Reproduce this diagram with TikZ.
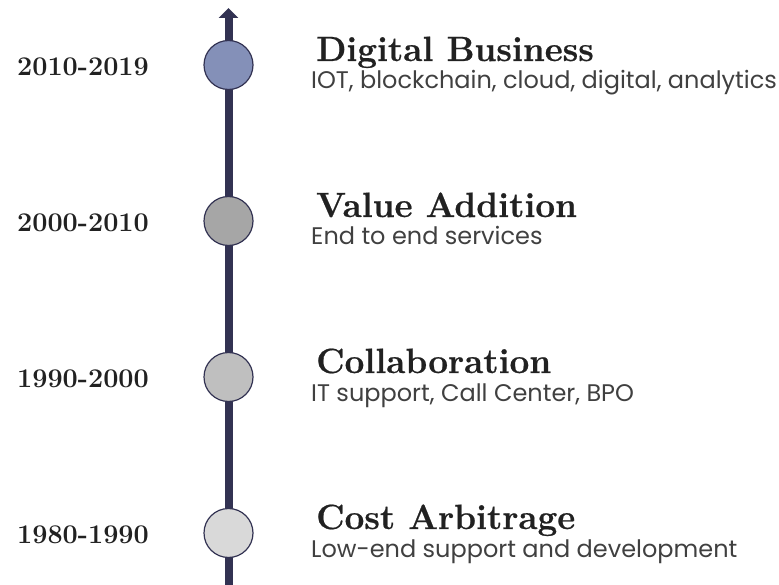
\documentclass[tikz,border=0pt]{standalone}
\usepackage{fontspec}
\setsansfont{Poppins}
\usetikzlibrary{arrows.meta}

\definecolor{stem}{RGB}{50,50,82}
\definecolor{dotA}{RGB}{132,144,184}
\definecolor{dotB}{RGB}{166,166,166}
\definecolor{dotC}{RGB}{191,191,191}
\definecolor{dotD}{RGB}{217,217,217}

\newfontfamily\heavyserif[FakeBold=0.6]{Latin Modern Roman}
\tikzset{
  era/.style={font=\bfseries\fontsize{27}{32}\selectfont, text=black!87},
  dot/.style={circle, draw=stem, line width=1.2pt, minimum size=49pt, inner sep=0pt},
  headline/.style={anchor=base west, inner sep=0pt, font=\heavyserif\bfseries\fontsize{35}{40}\selectfont, text=black!87},
  blurb/.style={anchor=base west, inner sep=0pt, font=\sffamily\fontsize{24}{28}\selectfont, text=black!75},
}

\begin{document}
\begin{tikzpicture}[x=1pt, y=-1pt]
\useasboundingbox (0,0) rectangle (779,585);

% the time axis
\coordinate (base) at (228.5,585);
\coordinate (tip) at (228.5,8);
\draw[stem, line width=8pt, -{Triangle[length=10pt, width=19pt]}] (base) -- (tip);

% one row per era, newest on top
\foreach \yr/\head/\txt/\col [count=\i, evaluate=\i as \ry using 65+156*(\i-1)] in {
  2010-2019/Digital Business/{IOT, blockchain, cloud, digital, analytics}/dotA,
  2000-2010/Value Addition/End to end services/dotB,
  1990-2000/Collaboration/{IT support, Call Center, BPO}/dotC,
  1980-1990/Cost Arbitrage/Low-end support and development/dotD}
{
  \node[dot, fill=\col] (dot\i) at (228.5,\ry) {};
  \node[era] (era\i) at (83,\ry+2) {\yr};
  \node[headline] (head\i) at (316,\ry-4) {\head};
  \node[blurb] (txt\i) at (311,\ry+24) {\txt};
}

\end{tikzpicture}
\end{document}
